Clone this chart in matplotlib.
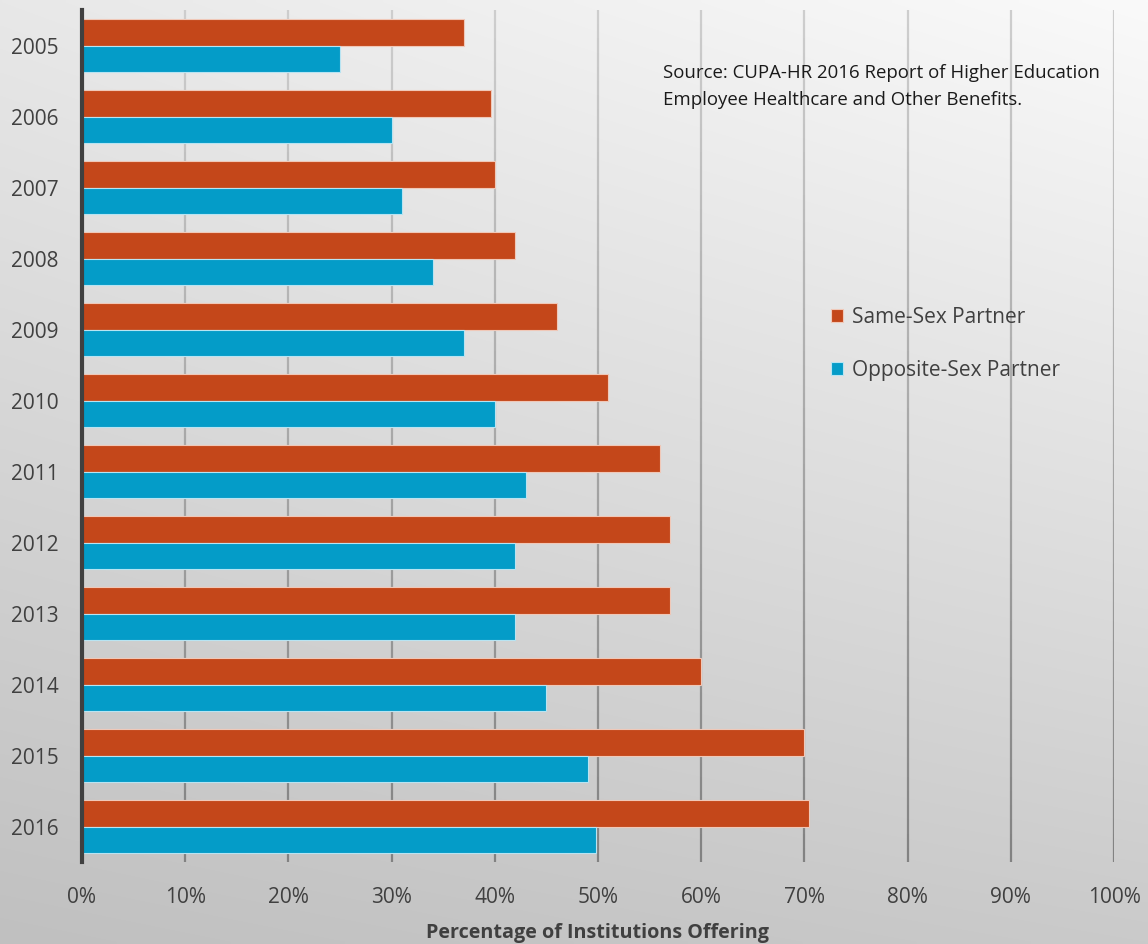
import matplotlib
matplotlib.use("Agg")
import matplotlib.pyplot as plt
import matplotlib.patches as mpatches
from matplotlib.collections import LineCollection
import numpy as np

plt.rcParams['font.family'] = ['Open Sans', 'DejaVu Sans']

years = ["2005", "2006", "2007", "2008", "2009", "2010",
         "2011", "2012", "2013", "2014", "2015", "2016"]
same_sex = [37, 39.6, 40, 42, 46, 51, 56, 57, 57, 60, 70, 70.4]
opposite_sex = [25, 30, 31, 34, 37, 40, 43, 42, 42, 45, 49, 49.8]
series_names = ["Same-Sex Partner", "Opposite-Sex Partner"]
x_ticks = list(range(0, 101, 10))
x_tick_labels = [f"{v}%" for v in x_ticks]
x_title = "Percentage of Institutions Offering"
source_text = "Source: CUPA-HR 2016 Report of Higher Education\nEmployee Healthcare and Other Benefits."

RED = "#C4471A"
BLUE = "#049CC8"
TXT = "#404040"

fig = plt.figure(figsize=(11.48, 9.44), dpi=100)

# background gradient
bg = fig.add_axes([0, 0, 1, 1], zorder=-10)
ny, nx = 200, 240
yy, xx = np.mgrid[0:1:ny*1j, 0:1:nx*1j]  # yy: 0 top -> 1 bottom
TL, TR, BL, BR = 232, 250, 192, 202
grad = (TL * (1 - xx) * (1 - yy) + TR * xx * (1 - yy)
        + BL * (1 - xx) * yy + BR * xx * yy) / 255.0
bg.imshow(np.dstack([grad, grad, grad]), aspect='auto', extent=[0, 1, 0, 1],
          interpolation='bilinear')
bg.set_axis_off()

ax = fig.add_axes([82/1148, 1 - 862/944, (1114 - 82)/1148, (862 - 10)/944])
ax.set_facecolor("none")

pos = np.arange(len(years))
h = 0.37
ax.barh(pos - h/2, same_sex, height=h, color=RED, edgecolor="#f0c8b8",
        linewidth=0.8, zorder=3, label=series_names[0])
ax.barh(pos + h/2, opposite_sex, height=h, color=BLUE, edgecolor="#b8e4f2",
        linewidth=0.8, zorder=3, label=series_names[1])

ax.set_xlim(0, 100)
ylo, yhi = len(years) - 0.5, -0.5
ax.set_ylim(ylo, yhi)
ax.set_yticks(pos)
ax.set_yticklabels(years, fontsize=15, color=TXT)
ax.set_xticks(x_ticks)
ax.set_xticklabels(x_tick_labels, fontsize=15, color=TXT)
ax.tick_params(axis='both', length=0)
ax.tick_params(axis='y', pad=17)
ax.tick_params(axis='x', pad=18)

# vertical gridlines, lighter at top and darker at bottom
nseg = 60
ys = np.linspace(yhi, ylo, nseg + 1)
segs, cols = [], []
for v in x_ticks[1:]:
    for i in range(nseg):
        segs.append([(v, ys[i]), (v, ys[i + 1])])
        t = i / (nseg - 1)
        g = (205 * (1 - t) + 130 * t) / 255.0
        cols.append((g, g, g))
ax.add_collection(LineCollection(segs, colors=cols, linewidths=1.6, zorder=1))

for s in ["top", "right", "bottom"]:
    ax.spines[s].set_visible(False)
ax.spines["left"].set_color("#404040")
ax.spines["left"].set_linewidth(3)
ax.spines["left"].set_zorder(4)

ax.set_xlabel(x_title, fontsize=14.2, fontweight='bold', color=TXT, labelpad=11)

handles = [mpatches.Patch(facecolor=RED, edgecolor="#f0c8b8", linewidth=0.8),
           mpatches.Patch(facecolor=BLUE, edgecolor="#b8e4f2", linewidth=0.8)]
leg = fig.legend(handles, series_names, loc='upper left',
                 bbox_to_anchor=(812/1148, 1 - 288/944), frameon=False,
                 fontsize=15, handlelength=0.6, handleheight=0.6,
                 handletextpad=0.4, labelspacing=1.55, labelcolor=TXT)

fig.text(663/1148, 1 - 64/944, source_text, fontsize=13.4, color="#1a1a1a",
         va='top', ha='left', linespacing=1.62)

fig.savefig("out.png", dpi=100)
